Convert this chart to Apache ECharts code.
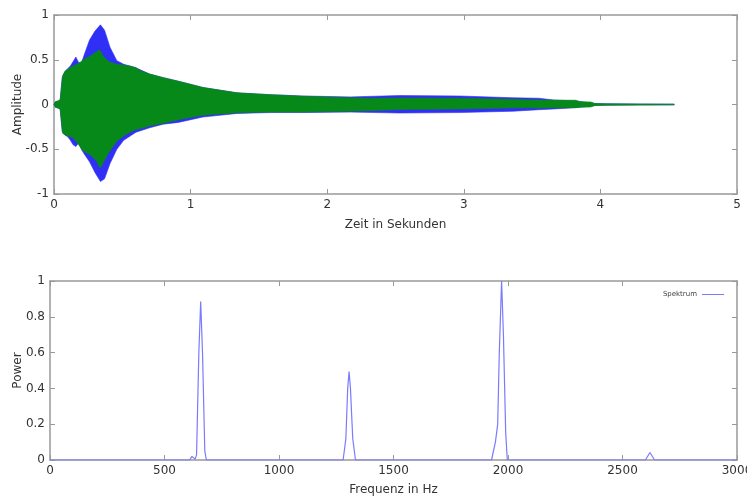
<!DOCTYPE html>
<html>
<head>
<meta charset="utf-8">
<script src="https://cdn.jsdelivr.net/npm/echarts@6/dist/echarts.min.js"></script>
<style>html,body{margin:0;padding:0;background:#fff}#c{width:747px;height:500px}</style>
</head>
<body>
<div id="c"></div>
<script>
// Waveform envelopes (seconds, amplitude)
var tBlue =      [0, 0.01, 0.03, 0.045, 0.06, 0.08, 0.10, 0.12, 0.14, 0.16, 0.18, 0.20, 0.22, 0.26, 0.30, 0.34, 0.37, 0.41, 0.46, 0.51, 0.60, 0.70, 0.80, 0.91, 1.09, 1.34, 1.58, 1.82, 2.17, 2.53, 2.97, 3.36, 3.55, 3.66, 3.82, 3.96, 4.04, 4.54];
var blueUpper =  [0, 0.03, 0.04, 0.05, 0.30, 0.37, 0.40, 0.43, 0.48, 0.53, 0.47, 0.46, 0.55, 0.72, 0.82, 0.89, 0.83, 0.64, 0.49, 0.45, 0.41, 0.34, 0.30, 0.26, 0.19, 0.13, 0.11, 0.095, 0.085, 0.10, 0.095, 0.075, 0.07, 0.05, 0.04, 0.011, 0.007, 0.004];
var blueLower =  [0, -0.03, -0.04, -0.05, -0.30, -0.34, -0.36, -0.40, -0.45, -0.47, -0.43, -0.50, -0.55, -0.64, -0.76, -0.86, -0.83, -0.66, -0.50, -0.40, -0.31, -0.26, -0.22, -0.20, -0.14, -0.10, -0.09, -0.09, -0.085, -0.095, -0.09, -0.075, -0.058, -0.05, -0.035, -0.011, -0.007, -0.004];

var tGreen =     [0, 0.01, 0.03, 0.045, 0.063, 0.08, 0.117, 0.14, 0.166, 0.19, 0.215, 0.263, 0.312, 0.33, 0.34, 0.36, 0.40, 0.46, 0.51, 0.556, 0.60, 0.63, 0.70, 0.80, 0.91, 1.09, 1.34, 1.58, 1.82, 2.17, 2.31, 2.53, 2.97, 3.41, 3.55, 3.70, 3.82, 3.85, 3.93, 3.96, 4.04, 4.54];
var greenUpper = [0, 0.03, 0.04, 0.05, 0.32, 0.37, 0.41, 0.43, 0.45, 0.47, 0.50, 0.54, 0.59, 0.61, 0.60, 0.54, 0.48, 0.45, 0.44, 0.43, 0.41, 0.38, 0.34, 0.30, 0.26, 0.19, 0.13, 0.11, 0.093, 0.075, 0.07, 0.072, 0.07, 0.056, 0.05, 0.048, 0.048, 0.03, 0.028, 0.011, 0.007, 0.004];
var greenLower = [0, -0.03, -0.04, -0.05, -0.32, -0.34, -0.36, -0.37, -0.42, -0.47, -0.52, -0.56, -0.63, -0.69, -0.71, -0.65, -0.54, -0.41, -0.35, -0.31, -0.28, -0.27, -0.24, -0.21, -0.17, -0.12, -0.093, -0.085, -0.085, -0.075, -0.07, -0.056, -0.05, -0.037, -0.04, -0.035, -0.035, -0.03, -0.028, -0.011, -0.007, -0.004];

// Spectrum (Hz, power)
var freq =  [0, 610, 620, 628, 634, 640, 650, 658, 666, 676, 683, 1280, 1292, 1300, 1306, 1312, 1322, 1334, 1928, 1945, 1955, 1962, 1972, 1980, 1990, 1997, 2600, 2620, 2640, 3000];
var power = [0, 0, 0.02, 0.025, 0.005, 0.03, 0.6, 0.885, 0.6, 0.05, 0, 0, 0.12, 0.4, 0.494, 0.4, 0.12, 0, 0, 0.1, 0.2, 0.6, 1.0, 0.7, 0.15, 0, 0, 0.042, 0, 0];

function pairs(xs, ys) { return xs.map(function (x, i) { return [x, ys[i]]; }); }

var FONT = 'DejaVu Sans';
var AX = '#999';
var TXT = '#333';

function axisBase(extra) {
  var o = {
    type: 'value',
    axisLine: { show: true, onZero: false, lineStyle: { color: AX, width: 1.5 } },
    axisTick: { show: true, inside: true, length: 5, lineStyle: { color: AX, width: 1 } },
    axisLabel: { show: true, color: TXT, fontSize: 12, fontFamily: FONT, margin: 5,
      formatter: function (v) { return String(v); } },
    splitLine: { show: false },
    nameMoveOverlap: false,
    nameTextStyle: { color: TXT, fontSize: 12, fontFamily: FONT }
  };
  for (var k in extra) o[k] = extra[k];
  return o;
}
function mirror(extra) {
  var o = axisBase(extra);
  o.axisLabel = { show: false };
  return o;
}

// Filled envelope: polygon through upper points then lower points (reversed), mapped by the axes
function envelope(name, xs, up, lo, color, z) {
  return {
    type: 'custom', name: name, xAxisIndex: 0, yAxisIndex: 0, z: z,
    data: pairs(xs, up),
    encode: { x: 0, y: 1 },
    renderItem: function (params, api) {
      if (params.dataIndex !== 0) return null;
      var pts = [], i;
      for (i = 0; i < xs.length; i++) pts.push(api.coord([xs[i], up[i]]));
      for (i = xs.length - 1; i >= 0; i--) pts.push(api.coord([xs[i], lo[i]]));
      return {
        type: 'polygon', shape: { points: pts },
        style: { fill: color, stroke: color, lineWidth: 0.6 }
      };
    },
    animation: false
  };
}

var chart = echarts.init(document.getElementById('c'), null, { renderer: 'canvas' });
chart.setOption({
  backgroundColor: '#fff',
  animation: false,
  grid: [
    { left: 54, right: 10, top: 15, height: 179, containLabel: false, outerBoundsMode: 'none' },
    { left: 50, right: 10, top: 281, height: 179, containLabel: false, outerBoundsMode: 'none' }
  ],
  legend: {
    data: [{ name: 'Spektrum', icon: 'rect' }],
    right: 18, top: 286, align: 'right',
    itemWidth: 22, itemHeight: 1, itemGap: 4,
    textStyle: { fontSize: 7, color: '#444', fontFamily: FONT }
  },
  xAxis: [
    axisBase({ gridIndex: 0, position: 'bottom', min: 0, max: 5, interval: 1,
      name: 'Zeit in Sekunden', nameLocation: 'middle', nameGap: 25 }),
    mirror({ gridIndex: 0, position: 'top', min: 0, max: 5, interval: 1 }),
    axisBase({ gridIndex: 1, position: 'bottom', min: 0, max: 3000, interval: 500,
      name: 'Frequenz in Hz', nameLocation: 'middle', nameGap: 24 }),
    mirror({ gridIndex: 1, position: 'top', min: 0, max: 3000, interval: 500 })
  ],
  yAxis: [
    axisBase({ gridIndex: 0, position: 'left', min: -1, max: 1, interval: 0.5,
      name: 'Amplitude', nameLocation: 'middle', nameGap: 30 }),
    mirror({ gridIndex: 0, position: 'right', min: -1, max: 1, interval: 0.5 }),
    axisBase({ gridIndex: 1, position: 'left', min: 0, max: 1, interval: 0.2,
      name: 'Power', nameLocation: 'middle', nameGap: 26 }),
    mirror({ gridIndex: 1, position: 'right', min: 0, max: 1, interval: 0.2 })
  ],
  series: [
    envelope('blue', tBlue, blueUpper, blueLower, '#2f2ff5', 2),
    envelope('green', tGreen, greenUpper, greenLower, '#07891a', 3),
    {
      type: 'line', name: 'Spektrum', xAxisIndex: 2, yAxisIndex: 2,
      data: pairs(freq, power), symbol: 'none', z: 3,
      lineStyle: { color: '#7a7aff', width: 1.2 },
      itemStyle: { color: '#7a7aff' },
      animation: false
    }
  ]
});
</script>
</body>
</html>
